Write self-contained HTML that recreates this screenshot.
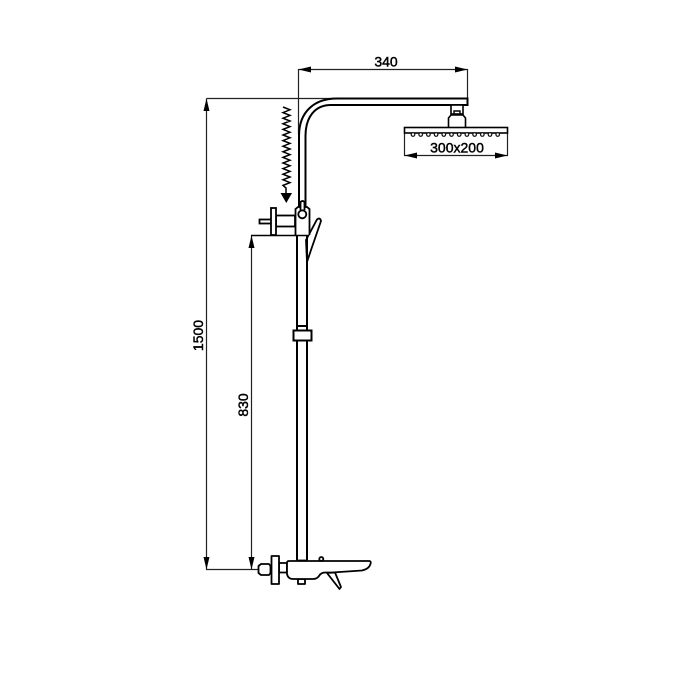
<!DOCTYPE html>
<html>
<head>
<meta charset="utf-8">
<style>
html,body{margin:0;padding:0;background:#fff;width:700px;height:700px;overflow:hidden}
svg{display:block;filter:blur(.35px)}
text{font-family:"Liberation Sans",sans-serif;font-size:14px;fill:#000;stroke:#000;stroke-width:.45px}
</style>
</head>
<body>
<svg width="700" height="700" viewBox="0 0 700 700" xmlns="http://www.w3.org/2000/svg">
<rect width="700" height="700" fill="#fff"/>

<!-- dimension lines -->
<g fill="none" stroke="#222" stroke-width="1.200">
  <path d="M206.500 98.500H335"/>
  <path d="M206.500 98.500V569.500H258"/>
  <path d="M251.500 235.500V569.500"/>
  <path d="M298.500 69V135"/>
  <path d="M467.500 69V98"/>
  <path d="M298.500 69.500H467.500"/>
  <path d="M404.500 133V155.500H507.500V133"/>
</g>
<g fill="#000">
  <path d="M298.500 69.500L311 66.500V72.500Z"/>
  <path d="M467.500 69.500L455 66.500V72.500Z"/>
  <path d="M404.500 155.500L417 152.500V158.500Z"/>
  <path d="M507.500 155.500L495 152.500V158.500Z"/>
  <path d="M206.500 98.500L203.500 111H209.500Z"/>
  <path d="M206.500 569.500L203.500 557H209.500Z"/>
  <path d="M251.500 235.500L248.500 248H254.500Z"/>
  <path d="M251.500 569.500L248.500 557H254.500Z"/>
</g>

<!-- arm and riser -->
<g fill="none" stroke="#000" stroke-width="2">
  <path d="M299 207V136C299 112 314 98.500 337 98.500H467.500V105H331C315 105 305.500 117 305.500 136V207"/>
</g>

<!-- shower head -->
<g fill="#fff" stroke="#000" stroke-width="1.600">
  <rect x="451" y="105" width="12" height="9"/>
  <path d="M448.500 127.500V118L451 115H463L465.500 118V127.500"/>
  <rect x="404.500" y="127.500" width="103" height="5.500"/>
</g>
<path d="M454 115V111H460V115" fill="none" stroke="#000" stroke-width="1.400"/>
<g fill="#fff" stroke="#111" stroke-width="1.200">
  <circle cx="413" cy="134.500" r="1.800"/><circle cx="420.700" cy="134.500" r="1.800"/><circle cx="428.400" cy="134.500" r="1.800"/><circle cx="436.100" cy="134.500" r="1.800"/><circle cx="443.800" cy="134.500" r="1.800"/><circle cx="451.500" cy="134.500" r="1.800"/><circle cx="459.200" cy="134.500" r="1.800"/><circle cx="466.900" cy="134.500" r="1.800"/><circle cx="474.600" cy="134.500" r="1.800"/><circle cx="482.300" cy="134.500" r="1.800"/><circle cx="490" cy="134.500" r="1.800"/><circle cx="497.700" cy="134.500" r="1.800"/>
</g>

<!-- water inlet spring and arrow -->
<path d="M283 107L290 109.800L283 112.600L290 115.400L283 118.200L290 121L283 123.800L290 126.600L283 129.400L290 132.200L283 135L290 137.800L283 140.600L290 143.400L283 146.200L290 149L283 151.800L290 154.600L283 157.400L290 160.200L283 163L290 165.800L283 168.600L290 171.400L283 174.200L290 177L283 179.800L290 182.600L283 185.400L286 188V193" fill="none" stroke="#000" stroke-width="1.500"/>
<path d="M280.500 193H292L286.300 203Z" fill="#000"/>

<!-- upper valve -->
<g fill="#fff" stroke="#000" stroke-width="1.800">
  <path d="M306 240L317 219.500Q320 217 321 221L311 250L307 262Z"/>
  <rect x="259.500" y="219.500" width="12" height="4"/>
  <rect x="276" y="215.500" width="19" height="11"/>
  <rect x="271" y="208" width="5" height="27"/>
  <path d="M295.500 235V209L298 207H307L309.500 209V235"/>
  <path d="M300.500 210V202Q302.500 200 304.500 202V210"/>
  <circle cx="302.300" cy="214.300" r="4"/>
</g>
<path d="M251 235.500H309" fill="none" stroke="#000" stroke-width="1.500"/>

<!-- riser -->
<g stroke="#000" stroke-width="2" fill="none">
  <path d="M297 235V330M307 235V330"/>
  <path d="M297 326H307"/>
  <path d="M297 340.500V560M307 340.500V560"/>
</g>
<rect x="293.500" y="330.500" width="18" height="10" fill="#fff" stroke="#000" stroke-width="2"/>

<!-- lower valve and spout -->
<g fill="#fff" stroke="#000" stroke-width="1.800" stroke-linejoin="round">
  <path d="M296.500 560.500H307.500"/>
  <rect x="298" y="579" width="7" height="5"/>
  <path d="M327 573L335 572.500L341 587L339.500 589Z"/>
  <rect x="279" y="563" width="8" height="9.500"/>
  <rect x="271.500" y="556" width="7.500" height="28"/>
  <path d="M261 564H269L270.500 566V573L269 575H261L258.500 573V566Z"/>
  <path d="M270 569H272"/>
  <path d="M289 561H369Q371.500 561 370.500 564Q369 569 362 570.500L332 572.500H325Q321 572.500 319 576Q317 579 313 579H293Q288 579 287 574V563Q287 561 289 561Z"/>
  <circle cx="321.300" cy="559" r="2"/>
</g>

<!-- labels -->
<text x="386" y="66.500" text-anchor="middle">340</text>
<text x="457" y="152.500" text-anchor="middle">300x200</text>
<text transform="translate(203 335.500) rotate(-90)" text-anchor="middle">1500</text>
<text transform="translate(248 405) rotate(-90)" text-anchor="middle">830</text>
</svg>
</body>
</html>
